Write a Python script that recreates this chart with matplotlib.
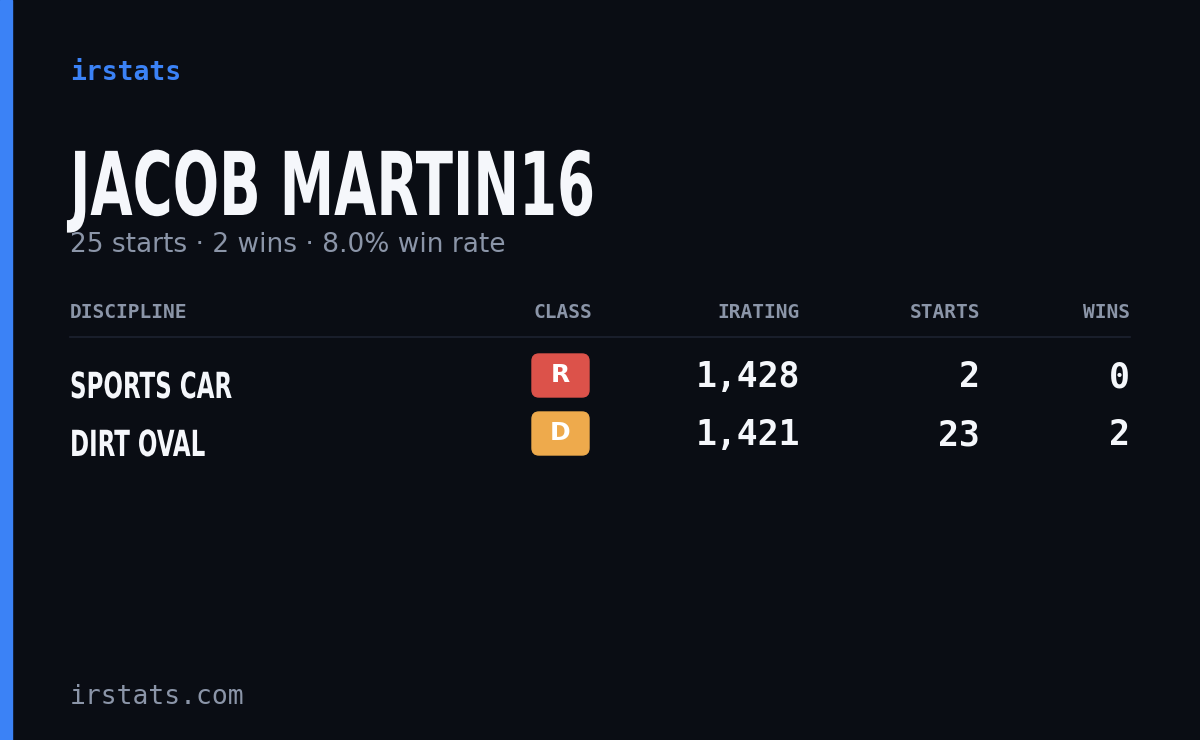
import matplotlib
matplotlib.use('Agg')
import matplotlib.pyplot as plt
from matplotlib.patches import FancyBboxPatch, Rectangle, PathPatch
from matplotlib.textpath import TextPath
from matplotlib.font_manager import FontProperties
from matplotlib.transforms import Affine2D

driver = "JACOB MARTIN16"
summary = "25 starts · 2 wins · 8.0% win rate"
headers = ["DISCIPLINE", "CLASS", "IRATING", "STARTS", "WINS"]
disciplines = ["SPORTS CAR", "DIRT OVAL"]
classes = ["R", "D"]
class_colors = ["#dc524a", "#eeaa4c"]
iratings = [1428, 1421]
starts = [2, 23]
wins = [0, 2]

BG = "#0a0d14"; GRAY = "#8b95a8"; BLUE = "#3b82f6"; WHITE = "#f5f7fb"
MONO = "DejaVu Sans Mono"
COND = FontProperties(family='DejaVu Sans', weight='bold', stretch='condensed')

fig = plt.figure(figsize=(12, 7.4), dpi=100, facecolor=BG)
ax = fig.add_axes([0, 0, 1, 1])
ax.set_xlim(0, 1200); ax.set_ylim(740, 0); ax.axis('off')
ax.set_facecolor(BG)
ax.add_patch(Rectangle((0, 0), 12, 740, color=BLUE))

def squeezed(x, base, s, size, sx, color):
    # narrow condensed heading drawn as a path, squeezed horizontally
    p = TextPath((0, 0), s, size=size, prop=COND)
    tr = Affine2D().scale(sx, -1).translate(x, base)
    ax.add_patch(PathPatch(tr.transform_path(p), color=color, lw=0))

ax.text(70, 73, "irstats", color=BLUE, fontsize=19, family=MONO, va='center', weight='bold')
squeezed(70, 215, driver, 88, 0.69, WHITE)
ax.text(70, 245, summary, color=GRAY, fontsize=19, va='center')

xs = [70, 592, 800, 980, 1130]
for i, (h, x) in enumerate(zip(headers, xs)):
    ax.text(x, 313, h, color=GRAY, fontsize=14, family=MONO, va='center', weight='bold',
            ha='left' if i == 0 else 'right')
ax.plot([70, 1130], [337, 337], color="#1d2230", lw=1.2)

for r in range(len(disciplines)):
    y = 377 + r * 58
    squeezed(70, y + 21, disciplines[r], 36, 0.71, WHITE)
    ax.add_patch(FancyBboxPatch((532, y - 23), 57, 43, boxstyle="round,pad=0,rounding_size=7",
                                color=class_colors[r]))
    ax.text(560.5, y - 1.5, classes[r], color='white', fontsize=18, weight='bold', ha='center', va='center')
    ax.text(800, y, f"{iratings[r]:,}", color=WHITE, fontsize=25, family=MONO, ha='right', va='center', weight='bold')
    ax.text(980, y, str(starts[r]), color=WHITE, fontsize=25, family=MONO, ha='right', va='center', weight='bold')
    ax.text(1130, y, str(wins[r]), color=WHITE, fontsize=25, family=MONO, ha='right', va='center', weight='bold')

ax.text(70, 697, "irstats.com", color=GRAY, fontsize=19, family=MONO, va='center')

fig.savefig("out.png", dpi=100, facecolor=BG)
